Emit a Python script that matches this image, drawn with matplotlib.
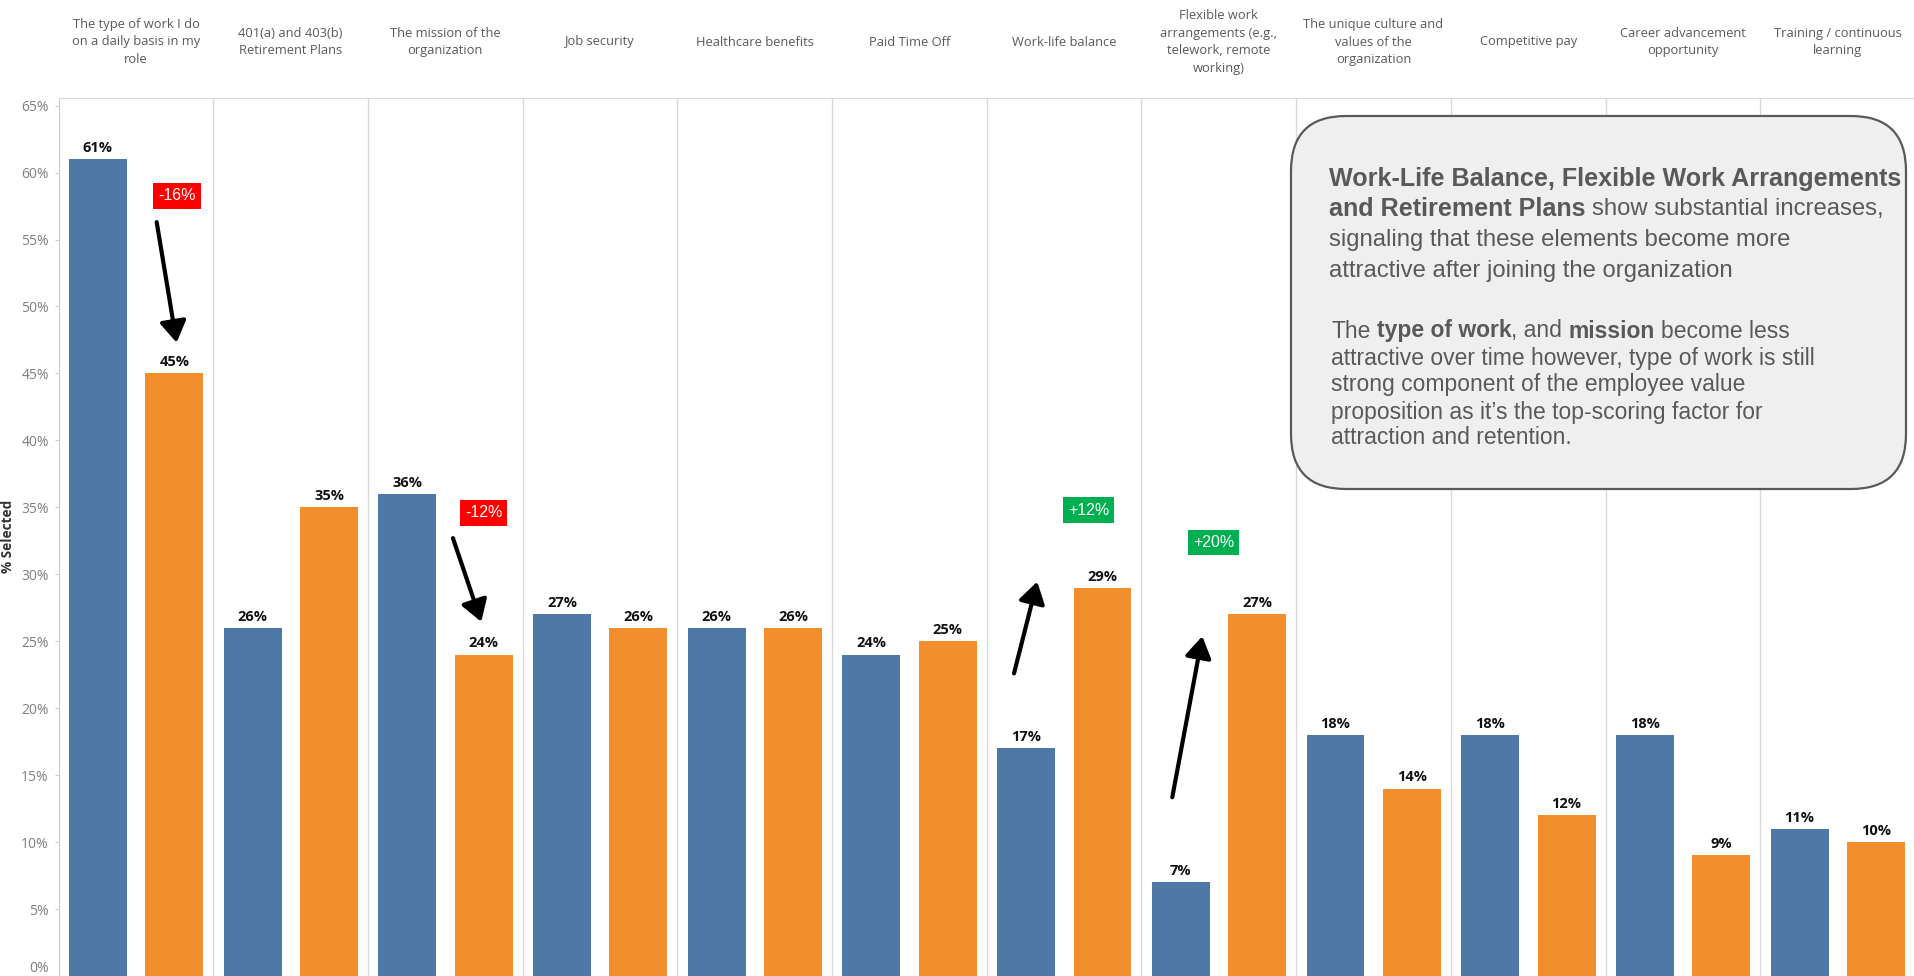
import matplotlib
matplotlib.use("Agg")
import matplotlib.pyplot as plt
import numpy as np
from matplotlib.patches import FancyBboxPatch
from matplotlib.transforms import IdentityTransform, blended_transform_factory

# data
categories = [
    "The type of work I do\non a daily basis in my\nrole",
    "401(a) and 403(b)\nRetirement Plans",
    "The mission of the\norganization",
    "Job security",
    "Healthcare benefits",
    "Paid Time Off",
    "Work-life balance",
    "Flexible work\narrangements (e.g.,\ntelework, remote\nworking)",
    "The unique culture and\nvalues of the\norganization",
    "Competitive pay",
    "Career advancement\nopportunity",
    "Training / continuous\nlearning",
]
before = [61, 26, 36, 27, 26, 24, 17, 7, 18, 18, 18, 11]
after = [45, 35, 24, 26, 26, 25, 29, 27, 14, 12, 9, 10]
yticks = list(range(0, 66, 5))

# change callouts (panel units / percent)
callout_labels = ["-16%", "-12%", "+12%", "+20%"]
callout_colors = ["#ff0000", "#ff0000", "#00b050", "#00b050"]
callout_pos = [(0.767, 58.25), (2.747, 34.58), (6.657, 34.80), (7.465, 32.37)]
arrow_from = [(0.634, 56.3), (2.549, 32.7), (6.176, 22.6), (7.199, 13.35)]
arrow_to = [(0.763, 47.3), (2.732, 26.45), (6.326, 29.45), (7.393, 25.37)]

para1 = [
    [("Work-Life Balance, Flexible Work Arrangements", True)],
    [("and Retirement Plans", True), (" show substantial increases,", False)],
    [("signaling that these elements become more", False)],
    [("attractive after joining the organization", False)],
]
para2 = [
    [("The ", False), ("type of work", True), (", and ", False), ("mission", True), (" become less", False)],
    [("attractive over time however, type of work is still", False)],
    [("strong component of the employee value", False)],
    [("proposition as it\u2019s the top-scoring factor for", False)],
    [("attraction and retention.", False)],
]

W, H = 1915, 976
fig = plt.figure(figsize=(W / 100, H / 100), dpi=100)
ax = fig.add_axes([58.6 / W, 0.0, 1 - 58.6 / W, (H - 97.7) / H])

x = np.arange(len(categories))
ax.bar(x + 0.254, before, width=0.374, color="#4e79a7")
ax.bar(x + 0.748, after, width=0.374, color="#f28e2b")

for xs, vals in [(x + 0.254, before), (x + 0.748, after)]:
    for xi, v in zip(xs, vals):
        ax.annotate(f"{v}%", (xi, v), xytext=(0, 3), textcoords="offset points",
                    ha="center", va="bottom", fontsize=10.5, fontweight="bold",
                    family="Open Sans", color="#111111")

ax.set_xlim(0, 12)
ax.set_ylim(0, 65.59)
for k in range(1, 13):
    ax.axvline(k, color="#d9d9d9", lw=1, zorder=0)
ax.set_xticks([])
ax.set_yticks(yticks)
ax.set_yticklabels([f"{t}%" for t in yticks], family="Open Sans", fontsize=10, color="#7f7f7f")
ax.get_yticklabels()[0].set_va("bottom")
ax.tick_params(axis="y", length=3, color="#cfcfcf", pad=4)
for s in ["bottom", "right"]:
    ax.spines[s].set_visible(False)
ax.spines["top"].set_color("#d9d9d9")
ax.spines["left"].set_color("#c8c8c8")
ax.set_ylabel("% Selected", family="Open Sans", fontsize=9.8, fontweight="bold", color="#333333")
ax.yaxis.set_label_coords(-0.0235, 0.5)

# header labels
tr = blended_transform_factory(ax.transData, fig.transFigure)
for i, c in enumerate(categories):
    ax.text(i + 0.5, 1 - 42 / H, c, transform=tr, ha="center", va="center",
            multialignment="center", family="Open Sans", fontsize=9.3,
            color="#595959", linespacing=1.45)

# callouts
for lab, col, p, a0, a1 in zip(callout_labels, callout_colors, callout_pos, arrow_from, arrow_to):
    ax.text(p[0], p[1], lab, ha="center", va="center", color="white", fontsize=11.5,
            family="Liberation Sans",
            bbox=dict(boxstyle="square,pad=0.32", fc=col, ec="none"))
    ax.annotate("", xy=a1, xytext=a0,
                arrowprops=dict(arrowstyle="-|>,head_length=0.8,head_width=0.5",
                                mutation_scale=16, lw=3, color="black",
                                shrinkA=0, shrinkB=0))

# comment box
box = FancyBboxPatch((1291, H - 489), 615, 373, boxstyle="round,pad=0,rounding_size=55",
                     transform=IdentityTransform(), fc="#efefef", ec="#595959", lw=1.6)
fig.add_artist(box)

r = fig.canvas.get_renderer()


def text_w(s, **kw):
    t = fig.text(0, 0, "|" + s + "|", transform=IdentityTransform(), **kw)
    w1 = t.get_window_extent(r).width
    t.set_text("||")
    w0 = t.get_window_extent(r).width
    t.remove()
    return w1 - w0


def rich_line(x0, y, pieces, size, bold_size):
    xx = x0
    for s, b in pieces:
        kw = dict(family="Liberation Sans", fontsize=bold_size if b else size,
                  fontweight="bold" if b else "normal")
        lead = s[: len(s) - len(s.lstrip())]
        body = s.strip()
        off = text_w(lead, **kw) if lead else 0
        fig.text(xx + off, H - y, body, transform=IdentityTransform(), ha="left",
                 va="center", color="#595959", **kw)
        xx += text_w(s, **kw)


for line, y in zip(para1, [179, 209, 240, 271]):
    rich_line(1329, y, line, 17.2, 18.1)
for line, y in zip(para2, [331, 358, 385, 412, 438]):
    rich_line(1331, y, line, 16.5, 16.5)

fig.savefig("out.png", dpi=100)
